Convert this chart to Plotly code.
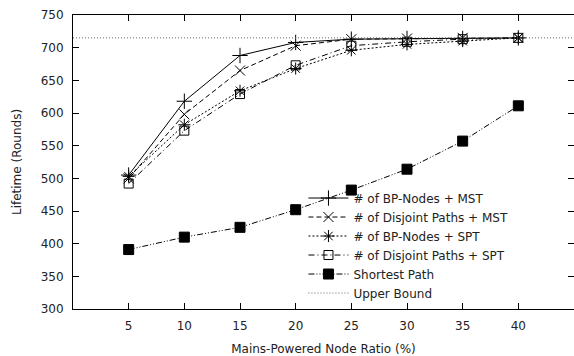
import plotly.graph_objects as go

ratio = [5, 10, 15, 20, 25, 30, 35, 40]
bp_mst = [505, 618, 688, 708, 713, 714, 714, 715]
dj_mst = [500, 598, 665, 703, 713, 714, 715, 715]
bp_spt = [503, 582, 634, 668, 696, 705, 710, 715]
dj_spt = [492, 573, 629, 673, 703, 709, 713, 715]
shortest = [391, 410, 425, 452, 482, 514, 557, 611]
upper_bound = 715
x_range = [0, 45]
y_range = [300, 750]

names = ["# of BP-Nodes + MST", "# of Disjoint Paths + MST", "# of BP-Nodes + SPT",
         "# of Disjoint Paths + SPT", "Shortest Path"]
series = [bp_mst, dj_mst, bp_spt, dj_spt, shortest]
dashes = ["solid", "5px,3px", "2px,2px", "6px,3px,1px,3px", "6px,2px,1px,2px,1px,2px"]
symbols = ["cross-thin-open", "x-thin-open", "asterisk-open", "square-open", "square"]
sizes = [11, 10, 10, 9, 10]

fig = go.Figure()
for n, s, d, sym, sz in zip(names, series, dashes, symbols, sizes):
    fig.add_trace(go.Scatter(
        x=ratio, y=s, name=n, mode="lines+markers",
        line=dict(color="black", width=1, dash=d),
        marker=dict(symbol=sym, size=sz, color="black", line=dict(color="black", width=1)),
    ))
fig.add_trace(go.Scatter(
    x=x_range, y=[upper_bound, upper_bound], name="Upper Bound", mode="lines",
    line=dict(color="#666666", width=1, dash="1px,2px"),
))

axis_common = dict(
    showline=True, linecolor="black", linewidth=1, mirror="ticks",
    ticks="inside", ticklen=6, tickcolor="black", showgrid=False, zeroline=False,
    automargin=False,
    tickfont=dict(family="DejaVu Sans", size=12, color="#222222"),
)
fig.update_layout(
    width=574, height=356,
    margin=dict(l=73, r=0, t=15, b=47),
    plot_bgcolor="white", paper_bgcolor="white",
    font=dict(family="DejaVu Sans", size=12, color="#222222"),
    xaxis=dict(range=x_range, tickvals=ratio, ticklabelstandoff=6, **axis_common,
               title=dict(text="Mains-Powered Node Ratio (%)", font=dict(size=12), standoff=18)),
    yaxis=dict(range=y_range, dtick=50, ticklabelstandoff=6, **axis_common,
               title=dict(text="Lifetime (Rounds)", font=dict(size=12), standoff=16)),
    legend=dict(x=0.46, y=0.005, xanchor="left", yanchor="bottom",
                bgcolor="rgba(0,0,0,0)", font=dict(size=12), tracegroupgap=0,
                itemwidth=40),
    showlegend=True,
)
fig.write_html("out.html", config={"displayModeBar": False},
               post_script="document.body.style.margin='0';document.body.style.overflow='hidden';")
